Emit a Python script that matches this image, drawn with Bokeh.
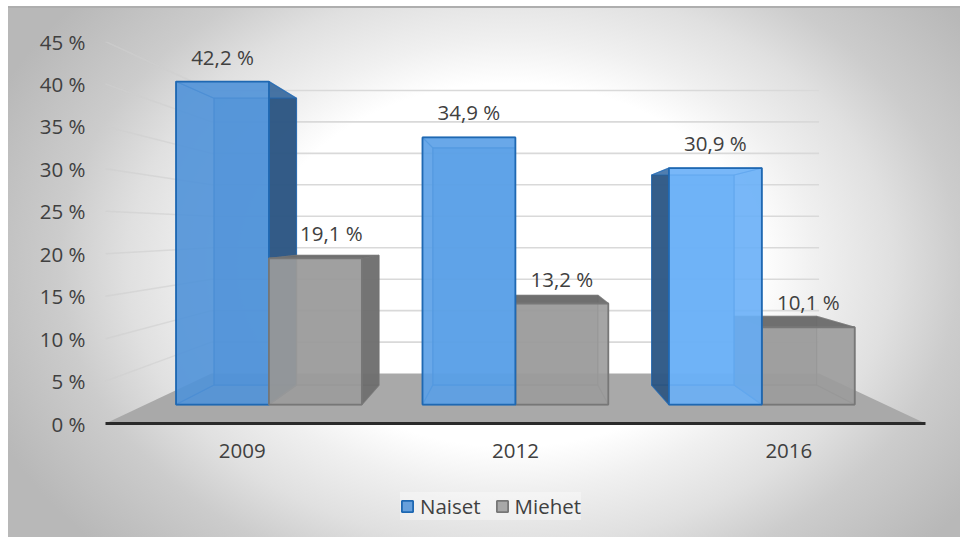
from bokeh.embed import file_html
from bokeh.models import ColumnDataSource, FixedTicker, Legend, LegendItem, Range1d
from bokeh.plotting import figure
from bokeh.resources import INLINE
from bokeh.core.properties import value

years = ["2009", "2012", "2016"]
naiset = [42.2, 34.9, 30.9]
miehet = [19.1, 13.2, 10.1]
value_ticks = [0, 5, 10, 15, 20, 25, 30, 35, 40, 45]

FONT = "Open Sans"
TEXT = "#404040"
BLUE_FACES = ["#5093d8", "#5a9fe6", "#6ab0f7"]
BLUE_OUT = "#29507a"
BLUE_EDGE = "#1f68b2"
GREY_FACE = "#9c9c9c"
GREY_OUT = "#6b6b6b"
GREY_EDGE = "#777777"

# Perspective of the 3D plot box: d=0 is the axis plane, d=1 the back wall.
VANISH_X = 1.4964
SHRINK = 0.259
RISE = 5.89
FRONT_D, BACK_D = 0.38, 0.77
BAR_W = 0.377

# The frame runs down to the legend, so the value scale starts below zero.
FRAME_H = 494
PX_PER_UNIT = 8.49


def project(u, v, d):
    s = 1 - SHRINK * d
    return VANISH_X + (u - VANISH_X) * s, RISE * d + v * s


def face(corners):
    pts = [project(*c) for c in corners]
    return [p[0] for p in pts], [p[1] for p in pts]


p = figure(width=960, height=537, output_backend="svg", toolbar_location=None,
           x_range=Range1d(-15 / 273.33, 3 + 15 / 273.33),
           y_range=Range1d(45 - FRAME_H / PX_PER_UNIT, 45),
           min_border_left=90, min_border_right=20, min_border_top=41, min_border_bottom=2,
           border_fill_alpha=0, background_fill_alpha=0, outline_line_color=None)
p.styles = {"background": (
    "linear-gradient(#aeaeae,#aeaeae) 8px 6px/952px 2px no-repeat,"
    "radial-gradient(ellipse 450px 330px at 502px 258px,#ffffff 55%,#f0f0f0 68%,#e0e0e0 85%,#cccccc 100%,#b8b8b8 125%)"
    " 8px 7px/952px 530px no-repeat,#ffffff")}
p.grid.visible = False

p.yaxis.ticker = FixedTicker(ticks=value_ticks)
p.yaxis.major_label_overrides = {t: f"{t} %" for t in value_ticks}
p.xaxis.ticker = FixedTicker(ticks=[0.5, 1.5, 2.5])
p.xaxis.major_label_overrides = {0.5: years[0], 1.5: years[1], 2.5: years[2]}
p.xaxis.fixed_location = 0
p.xaxis.major_label_standoff = 20
p.yaxis.major_label_standoff = 5
for ax in (p.xaxis, p.yaxis):
    ax.axis_line_color = None
    ax.major_tick_line_color = None
    ax.minor_tick_line_color = None
    ax.major_tick_in = 0
    ax.major_tick_out = 0
    ax.major_label_text_font = FONT
    ax.major_label_text_font_size = "20.5px"
    ax.major_label_text_color = TEXT

# Floor of the plot box
fx, fy = face([(0, 0, 0), (3, 0, 0), (3, 0, 1), (0, 0, 1)])
p.patch(fx, fy, fill_color="#a9a9a9", line_color=None)

# Gridlines: the fan across the side wall and the back wall behind it
for t in value_ticks[1:]:
    wx, wy = face([(0, t, 0), (0, t, 1)])
    p.line(wx, wy, line_color="#cfcfcf", line_width=1.5, line_alpha=0.6)
    bx, by = face([(0, t, 1), (3, t, 1)])
    p.line(bx, by, line_color="#d9d9d9", line_width=1.6)


def draw_bar(u0, u1, v, base, out, edge):
    bbl = (u0, 0, BACK_D); bbr = (u1, 0, BACK_D); btl = (u0, v, BACK_D); btr = (u1, v, BACK_D)
    fbl = (u0, 0, FRONT_D); fbr = (u1, 0, FRONT_D); ftl = (u0, v, FRONT_D); ftr = (u1, v, FRONT_D)

    # A side face that shows beyond the front face is shaded; otherwise it is seen through it.
    right_out = project(u1, 0, BACK_D)[0] > project(u1, 0, FRONT_D)[0] + 0.001
    left_out = project(u0, 0, BACK_D)[0] < project(u0, 0, FRONT_D)[0] - 0.001
    top_out = project(u0, v, BACK_D)[1] > project(u0, v, FRONT_D)[1]

    rows = [([bbl, bbr, btr, btl], base, 0.75),
            ([fbl, fbr, bbr, bbl], base, 0.30),
            ([fbl, ftl, btl, bbl], out if left_out else base, 0.88 if left_out else 0.35),
            ([fbr, ftr, btr, bbr], out if right_out else base, 0.88 if right_out else 0.35),
            ([ftl, ftr, btr, btl], out if top_out else base, 0.95 if top_out else 0.35)]
    xs, ys = zip(*[face(c) for c, _, _ in rows])
    src = ColumnDataSource(dict(xs=list(xs), ys=list(ys),
                                fc=[r[1] for r in rows], fa=[r[2] for r in rows]))
    p.patches("xs", "ys", source=src, fill_color="fc", fill_alpha="fa",
              line_color=edge, line_alpha=0.6, line_width=1.2)
    fr_x, fr_y = face([fbl, fbr, ftr, ftl])
    src_f = ColumnDataSource(dict(xs=[fr_x], ys=[fr_y]))
    return p.patches("xs", "ys", source=src_f, fill_color=base, fill_alpha=0.86,
                     line_color=edge, line_width=1.8)


legend_refs = {}
for i, (n, m) in enumerate(zip(naiset, miehet)):
    mid = i + 0.5
    pair = [("n", mid - BAR_W, mid, n, BLUE_FACES[i], BLUE_OUT, BLUE_EDGE),
            ("m", mid, mid + BAR_W, m, GREY_FACE, GREY_OUT, GREY_EDGE)]
    # The bar farther from the vanishing point is painted last.
    if mid >= VANISH_X:
        pair.reverse()
    for key, u0, u1, v, base, out, edge in pair:
        r = draw_bar(u0, u1, v, base, out, edge)
        legend_refs.setdefault(key, r)

# Axis baseline
p.line([0, 3], [0, 0], line_color="#2a2a2a", line_width=3)

# Value labels centred over each front face, in Finnish number format
lab_x, lab_y, lab_t, lab_dx = [], [], [], []
for i, (n, m) in enumerate(zip(naiset, miehet)):
    mid = i + 0.5
    for u, v, dx in ((mid - BAR_W / 2, n, 0), (mid + BAR_W / 2, m, 16 if i == 0 else 0)):
        x, y = project(u, v, FRONT_D)
        lab_x.append(x); lab_y.append(y); lab_dx.append(dx)
        lab_t.append(f"{v:.1f} %".replace(".", ","))
p.text(lab_x, lab_y, text=lab_t, x_offset=lab_dx, y_offset=-25,
       text_align="center", text_baseline="middle", text_color=TEXT,
       text_font=value(FONT), text_font_size="20.5px")

legend = Legend(items=[LegendItem(label="Naiset", renderers=[legend_refs["n"]], index=0),
                       LegendItem(label="Miehet", renderers=[legend_refs["m"]], index=0)],
                location=(310, 15), orientation="horizontal",
                background_fill_color="#ffffff", background_fill_alpha=0.35,
                border_line_color=None, glyph_width=14, glyph_height=14,
                label_text_font=FONT, label_text_font_size="20.5px", label_text_color=TEXT,
                spacing=14, padding=6, margin=0, label_standoff=6)
p.add_layout(legend)

open("out.html", "w").write(file_html(p, INLINE))
